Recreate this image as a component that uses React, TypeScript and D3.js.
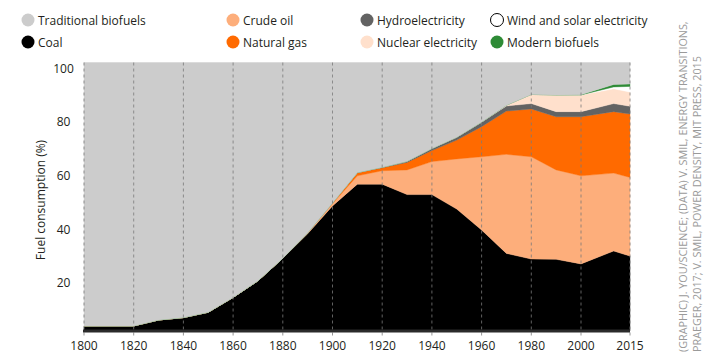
import * as d3 from 'd3';
import React, { useEffect, useRef } from 'react';

// Share of global primary energy (%)
const years = [
   1800, 1820, 1830, 1840, 1850, 1860, 1870, 1880, 1890, 1900, 1910, 1920, 1930, 1940, 1950,
   1960, 1970, 1980, 1990, 2000, 2010, 2015,
];
const coal = [
   1.9, 1.9, 4.1, 5.0, 7.0, 12.5, 18.7, 27.1, 36.2, 46.6, 54.7, 54.7, 50.8, 50.8, 45.4, 37.6,
   28.9, 26.8, 26.7, 25.0, 29.8, 27.9,
];
const crudeOil = [
   0, 0, 0, 0, 0, 0, 0, 0, 0.4, 0.8, 3.1, 5.0, 9.2, 12.3, 18.7, 27.3, 36.9, 38.1, 33.3, 32.8,
   29.0, 29.3,
];
const naturalGas = [
   0, 0, 0, 0, 0, 0, 0, 0, 0, 0.3, 1.2, 1.1, 2.8, 4.1, 7.0, 11.2, 16.1, 17.8, 19.8, 22.0, 22.9,
   23.6,
];
const hydroelectricity = [
   0, 0, 0, 0, 0, 0, 0, 0, 0, 0, 0, 0.2, 0.4, 0.8, 1.1, 1.7, 1.9, 2.0, 1.9, 1.9, 3.0, 2.9,
];
const nuclearElectricity = [
   0, 0, 0, 0, 0, 0, 0, 0, 0, 0, 0, 0, 0, 0, 0, 0, 0.3, 3.4, 6.2, 6.2, 5.5, 5.3,
];
const windAndSolar = [
   0, 0, 0, 0, 0, 0, 0, 0, 0, 0, 0, 0, 0, 0, 0, 0, 0, 0, 0, 0, 0.7, 2.1,
];
const modernBiofuels = [
   0, 0, 0, 0, 0, 0, 0, 0, 0, 0, 0, 0, 0, 0, 0, 0, 0, 0, 0, 0.1, 0.9, 0.9,
];
const traditionalBiofuels = [
   98.1, 98.1, 95.9, 95.0, 93.0, 87.5, 81.3, 72.9, 63.4, 52.3, 41.0, 39.0, 36.8, 32.0, 27.8,
   22.2, 15.9, 11.9, 12.1, 12.0, 8.2, 8.0,
];

const xTicks = [1800, 1820, 1840, 1860, 1880, 1900, 1920, 1940, 1960, 1980, 2000, 2015];
const yTicks = [20, 40, 60, 80, 100];

// stacked bottom to top
const seriesKeys = [
   'coal',
   'crudeOil',
   'naturalGas',
   'hydroelectricity',
   'nuclearElectricity',
   'windAndSolar',
   'modernBiofuels',
   'traditionalBiofuels',
];

const colors: Record<string, string> = {
   traditionalBiofuels: '#cccccc',
   coal: '#000000',
   crudeOil: '#fdae7b',
   naturalGas: '#ff6a00',
   hydroelectricity: '#636363',
   nuclearElectricity: '#ffe0cc',
   windAndSolar: '#ffffff',
   modernBiofuels: '#2e8b36',
};

// legend laid out column by column, two rows each
const legendItems = [
   { key: 'traditionalBiofuels', label: 'Traditional biofuels' },
   { key: 'coal', label: 'Coal' },
   { key: 'crudeOil', label: 'Crude oil' },
   { key: 'naturalGas', label: 'Natural gas' },
   { key: 'hydroelectricity', label: 'Hydroelectricity' },
   { key: 'nuclearElectricity', label: 'Nuclear electricity' },
   { key: 'windAndSolar', label: 'Wind and solar electricity' },
   { key: 'modernBiofuels', label: 'Modern biofuels' },
];

const creditLines = [
   '(GRAPHIC) J. YOU/SCIENCE; (DATA) V. SMIL, ENERGY TRANSITIONS,',
   'PRAEGER, 2017; V. SMIL, POWER DENSITY, MIT PRESS, 2015',
];

const FONT = '"Open Sans", "DejaVu Sans", sans-serif';

const App = () => {
   const svgRef = useRef<SVGSVGElement | null>(null);

   useEffect(() => {
      const svg = d3.select(svgRef.current);
      svg.selectAll('*').remove();

      const width = 720;
      const height = 358;
      const plot = { left: 84, right: 630, top: 62.5, bottom: 331 };

      // 2000 -> 2015 is drawn as wide as one 20-year step in the original
      const xScale = d3
         .scaleLinear()
         .domain([1800, 2000, 2015])
         .range([plot.left, 581, plot.right]);
      const yScale = d3.scaleLinear().domain([0, 100]).range([plot.bottom, plot.top]);

      const rows = years.map((year, i) => ({
         year,
         coal: coal[i],
         crudeOil: crudeOil[i],
         naturalGas: naturalGas[i],
         hydroelectricity: hydroelectricity[i],
         nuclearElectricity: nuclearElectricity[i],
         windAndSolar: windAndSolar[i],
         modernBiofuels: modernBiofuels[i],
         traditionalBiofuels: traditionalBiofuels[i],
      }));

      const stacked = d3
         .stack<any>()
         .keys(seriesKeys)
         .order(d3.stackOrderNone)
         .offset(d3.stackOffsetNone)(rows);

      const area = d3
         .area<any>()
         .x((d) => xScale(d.data.year))
         .y0((d) => yScale(d[0]))
         .y1((d) => yScale(d[1]));

      svg.attr('width', width).attr('height', height);

      svg.append('g')
         .selectAll('path')
         .data(stacked)
         .join('path')
         .attr('fill', (d) => colors[d.key])
         .attr('stroke', (d) => colors[d.key])
         .attr('stroke-width', 0.4)
         .attr('d', area);

      // dashed verticals
      svg.append('g')
         .selectAll('line')
         .data(xTicks)
         .join('line')
         .attr('x1', (d) => xScale(d))
         .attr('x2', (d) => xScale(d))
         .attr('y1', plot.top)
         .attr('y2', plot.bottom + 5)
         .attr('stroke', '#7a7a7a')
         .attr('stroke-width', 0.8)
         .attr('stroke-dasharray', '3,3');

      // bottom axis bar
      svg.append('rect')
         .attr('x', plot.left - 1)
         .attr('y', plot.bottom - 1.5)
         .attr('width', plot.right - plot.left + 1)
         .attr('height', 3)
         .attr('fill', '#2b2b2b');

      svg.append('g')
         .selectAll('text')
         .data(xTicks)
         .join('text')
         .attr('x', (d) => xScale(d))
         .attr('y', 345)
         .attr('text-anchor', 'middle')
         .attr('dominant-baseline', 'central')
         .attr('font-family', FONT)
         .attr('font-size', 12)
         .attr('fill', '#231f20')
         .text((d) => d);

      // y labels hang just below their value
      svg.append('g')
         .selectAll('text')
         .data(yTicks)
         .join('text')
         .attr('x', 63.5)
         .attr('y', (d) => yScale(d) + 5.5)
         .attr('text-anchor', 'middle')
         .attr('dominant-baseline', 'central')
         .attr('font-family', FONT)
         .attr('font-size', 12)
         .attr('fill', '#231f20')
         .text((d) => d);

      svg.append('text')
         .attr('transform', 'translate(40,200) rotate(-90)')
         .attr('text-anchor', 'middle')
         .attr('dominant-baseline', 'central')
         .attr('font-family', FONT)
         .attr('font-size', 12)
         .attr('fill', '#231f20')
         .text('Fuel consumption (%)');

      // legend
      const colX = [28, 233, 367, 497];
      const rowY = [20, 42];
      const legend = svg
         .append('g')
         .selectAll('g')
         .data(legendItems)
         .join('g')
         .attr(
            'transform',
            (_, i) => `translate(${colX[Math.floor(i / 2)]},${rowY[i % 2]})`,
         );

      legend
         .append('circle')
         .attr('r', 6.5)
         .attr('fill', (d) => colors[d.key])
         .attr('stroke', (d) => (d.key === 'windAndSolar' ? '#000' : 'none'))
         .attr('stroke-width', 1);

      legend
         .append('text')
         .attr('x', 10)
         .attr('dominant-baseline', 'central')
         .attr('font-family', FONT)
         .attr('font-size', 12)
         .attr('fill', '#231f20')
         .text((d) => d.label);

      // vertical credit
      svg.append('g')
         .selectAll('text')
         .data(creditLines)
         .join('text')
         .attr('transform', (_, i) => `translate(${687 + i * 13.5},352) rotate(-90)`)
         .attr('font-family', FONT)
         .attr('font-size', 10.8)
         .attr('fill', '#9a9a9a')
         .text((d) => d);
   }, []);

   return (
      <div style={{ position: 'absolute', left: 0, top: 0 }}>
         <svg ref={svgRef} />
      </div>
   );
};

export default App;
